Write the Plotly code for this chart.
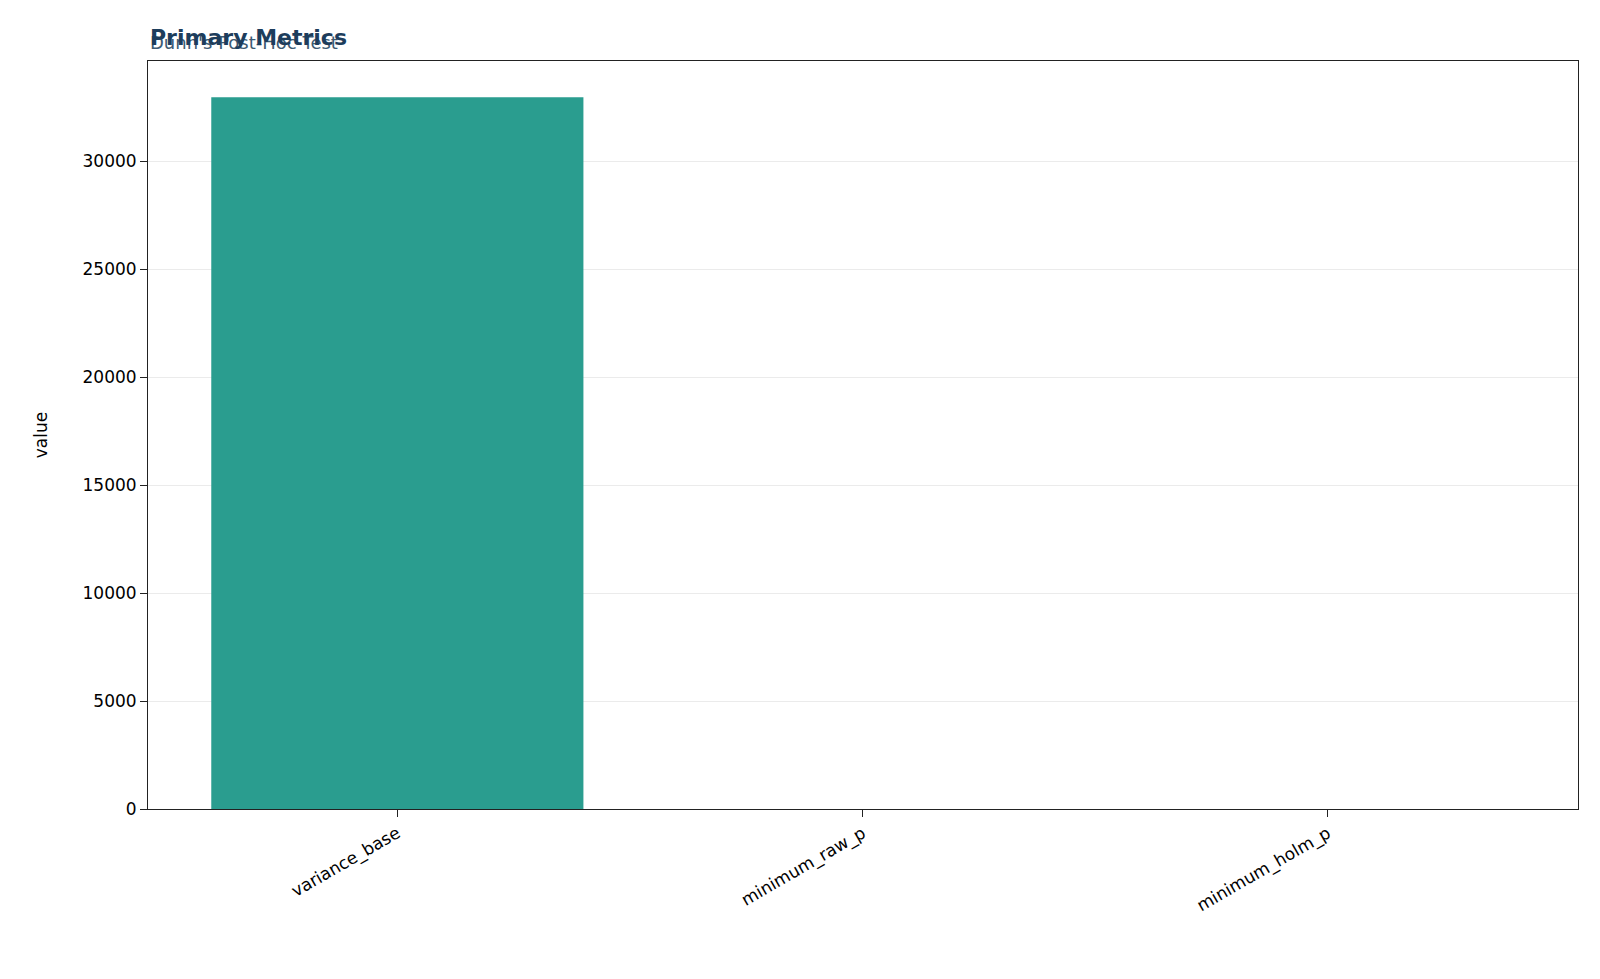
import plotly.graph_objects as go

categories = ["variance_base", "minimum_raw_p", "minimum_holm_p"]
values = [32950, 0.0005, 0.001]

fig = go.Figure(go.Bar(x=categories, y=values, width=0.8, marker_color="#2a9d8f", marker_line_width=0))
fig.update_layout(
    width=1600, height=979, paper_bgcolor="white", plot_bgcolor="white",
    margin=dict(l=140, r=30, t=53, b=178),
    font=dict(family="DejaVu Sans", size=17, color="black"),
    showlegend=False,
    annotations=[
        dict(text="Dunn's Post-Hoc Test", x=0, y=1, xref="paper", yref="paper", xanchor="left", yanchor="bottom",
             yshift=6, showarrow=False, font=dict(size=18, color="#3d5a73")),
        dict(text="<b>Primary Metrics</b>", x=0, y=1, xref="paper", yref="paper", xanchor="left", yanchor="bottom",
             yshift=9, showarrow=False, font=dict(size=22, color="#1d3d5c")),
    ],
)
fig.update_xaxes(range=[-0.536, 2.538], showline=True, linecolor="#222", mirror=True, ticks="outside",
                 tickangle=-30, ticklen=7, tickcolor="#222", tickfont=dict(size=17))
fig.update_yaxes(range=[0, 34630], showline=True, linecolor="#222", mirror=True, ticks="outside",
                 ticklen=7, tickcolor="#222", dtick=5000, showgrid=True, gridcolor="#ebebeb",
                 title=dict(text="value", font=dict(size=17), standoff=30), zeroline=False, tickformat="d")
fig.write_html("out.html")
